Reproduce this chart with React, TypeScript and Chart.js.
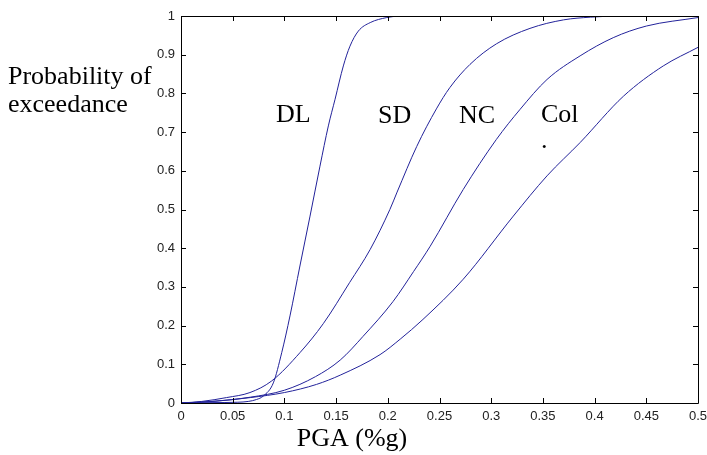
import React, { useEffect, useRef } from "react";
import { Chart, registerables } from "chart.js";

Chart.register(...registerables);

const dlX = [0, 0.03, 0.055, 0.065, 0.073, 0.0796, 0.0893, 0.0974, 0.1054, 0.115, 0.1248, 0.1344, 0.1425, 0.149, 0.157, 0.1634, 0.1715, 0.183, 0.199, 0.21];
const dlY = [0, 0.001, 0.002, 0.004, 0.009, 0.018, 0.052, 0.13, 0.225, 0.354, 0.483, 0.612, 0.716, 0.785, 0.871, 0.922, 0.961, 0.983, 0.996, 1];

const sdX = [0, 0.02, 0.044, 0.0667, 0.0877, 0.115, 0.1376, 0.163, 0.183, 0.202, 0.209, 0.228, 0.247, 0.26, 0.2795, 0.305, 0.3375, 0.37, 0.396, 0.42];
const sdY = [0, 0.004, 0.014, 0.027, 0.057, 0.13, 0.205, 0.311, 0.397, 0.5, 0.545, 0.663, 0.76, 0.815, 0.875, 0.928, 0.968, 0.99, 0.997, 1];

const ncX = [0, 0.03, 0.067, 0.1, 0.13, 0.154, 0.176, 0.205, 0.225, 0.241, 0.273, 0.305, 0.328, 0.354, 0.386, 0.418, 0.45, 0.5];
const ncY = [0, 0.004, 0.015, 0.033, 0.068, 0.111, 0.172, 0.262, 0.34, 0.405, 0.552, 0.681, 0.759, 0.836, 0.897, 0.944, 0.974, 0.996];

const colX = [0, 0.03, 0.067, 0.1, 0.131, 0.154, 0.1925, 0.212, 0.234, 0.273, 0.3214, 0.354, 0.386, 0.428, 0.4664, 0.5];
const colY = [0, 0.004, 0.014, 0.027, 0.048, 0.072, 0.125, 0.165, 0.216, 0.32, 0.483, 0.587, 0.673, 0.793, 0.871, 0.919];

const xTickValues = [0, 0.05, 0.1, 0.15, 0.2, 0.25, 0.3, 0.35, 0.4, 0.45, 0.5];
const xTickLabels = ["0", "0.05", "0.1", "0.15", "0.2", "0.25", "0.3", "0.35", "0.4", "0.45", "0.5"];
const yTickValues = [0, 0.1, 0.2, 0.3, 0.4, 0.5, 0.6, 0.7, 0.8, 0.9, 1];
const yTickLabels = ["0", "0.1", "0.2", "0.3", "0.4", "0.5", "0.6", "0.7", "0.8", "0.9", "1"];

const seriesNames = ["DL", "SD", "NC", "Col"];
const yAxisTitle = ["Probability of", "exceedance"];
const xAxisTitle = "PGA (%g)";

const LINE = "#22229a";
const SERIF = '"Liberation Serif", "Times New Roman", serif';

function pts(xs: number[], ys: number[]) {
  return xs.map((x, i) => ({ x, y: ys[i] }));
}

const boxPlugin = {
  id: "matlabBox",
  afterDraw(chart: any) {
    const { ctx, chartArea, scales } = chart;
    const { left, right, top, bottom } = chartArea;
    ctx.save();
    ctx.strokeStyle = "#000";
    ctx.lineWidth = 1;
    ctx.beginPath();
    ctx.rect(Math.round(left) + 0.5, Math.round(top) + 0.5, Math.round(right - left), Math.round(bottom - top));
    ctx.stroke();
    const tl = 5;
    ctx.beginPath();
    xTickValues.forEach((v) => {
      const px = Math.round(scales.x.getPixelForValue(v)) + 0.5;
      ctx.moveTo(px, bottom);
      ctx.lineTo(px, bottom - tl);
      ctx.moveTo(px, top);
      ctx.lineTo(px, top + tl);
    });
    yTickValues.forEach((v) => {
      const py = Math.round(scales.y.getPixelForValue(v)) + 0.5;
      ctx.moveTo(left, py);
      ctx.lineTo(left + tl, py);
      ctx.moveTo(right, py);
      ctx.lineTo(right - tl, py);
    });
    ctx.stroke();

    ctx.fillStyle = "#000";
    ctx.font = `26px ${SERIF}`;
    ctx.textBaseline = "alphabetic";
    ctx.textAlign = "left";
    ctx.fillText(yAxisTitle[0], 8, 84);
    ctx.fillText(yAxisTitle[1], 8, 112);
    ctx.fillText(seriesNames[0], 276, 122);
    ctx.fillText(seriesNames[1], 378, 123);
    ctx.fillText(seriesNames[2], 459, 123);
    ctx.fillText(seriesNames[3], 541, 122);
    ctx.fillText(".", 541, 148);
    ctx.textAlign = "center";
    ctx.fillText(xAxisTitle, 352, 446);
    ctx.restore();
  },
};

export default function App() {
  const ref = useRef<HTMLCanvasElement | null>(null);
  useEffect(() => {
    if (!ref.current) return;
    const mk = (label: string, xs: number[], ys: number[]) => ({
      label,
      data: pts(xs, ys),
      showLine: true,
      borderColor: LINE,
      backgroundColor: LINE,
      borderWidth: 1,
      pointRadius: 0,
      cubicInterpolationMode: "monotone",
      fill: false,
    });
    const tickFont = { family: '"Liberation Sans", Arial, sans-serif', size: 13 };
    const chart = new Chart(ref.current, {
      type: "scatter",
      data: {
        datasets: [
          mk(seriesNames[0], dlX, dlY),
          mk(seriesNames[1], sdX, sdY),
          mk(seriesNames[2], ncX, ncY),
          mk(seriesNames[3], colX, colY),
        ],
      },
      options: {
        responsive: false,
        animation: false,
        layout: { padding: { top: 16, right: 9, left: 0, bottom: 0 } },
        plugins: { legend: { display: false }, tooltip: { enabled: false }, title: { display: false } },
        scales: {
          x: {
            type: "linear",
            min: 0,
            max: 0.5,
            grid: { display: false, drawTicks: false },
            border: { display: false },
            afterBuildTicks: (s: any) => {
              s.ticks = xTickValues.map((v) => ({ value: v }));
            },
            afterFit: (s: any) => {
              s.height = 52;
              s.paddingLeft = 0;
              s.paddingRight = 0;
            },
            ticks: {
              autoSkip: false,
              maxRotation: 0,
              padding: 6,
              color: "#222",
              font: tickFont,
              callback: (v: any) => {
                const i = xTickValues.findIndex((t) => Math.abs(t - v) < 1e-9);
                return i >= 0 ? xTickLabels[i] : "";
              },
            },
          },
          y: {
            type: "linear",
            min: 0,
            max: 1,
            grid: { display: false, drawTicks: false },
            border: { display: false },
            afterBuildTicks: (s: any) => {
              s.ticks = yTickValues.map((v) => ({ value: v }));
            },
            afterFit: (s: any) => {
              s.width = 181;
              s.paddingTop = 0;
              s.paddingBottom = 0;
            },
            ticks: {
              autoSkip: false,
              padding: 6,
              color: "#222",
              font: tickFont,
              callback: (v: any) => {
                const i = yTickValues.findIndex((t) => Math.abs(t - v) < 1e-9);
                return i >= 0 ? yTickLabels[i] : "";
              },
            },
          },
        },
      },
      plugins: [boxPlugin],
    });
    return () => chart.destroy();
  }, []);
  return (
    <canvas
      ref={ref}
      width={707}
      height={455}
      style={{ position: "fixed", left: 0, top: 0, width: 707, height: 455, background: "#fff" }}
    />
  );
}
